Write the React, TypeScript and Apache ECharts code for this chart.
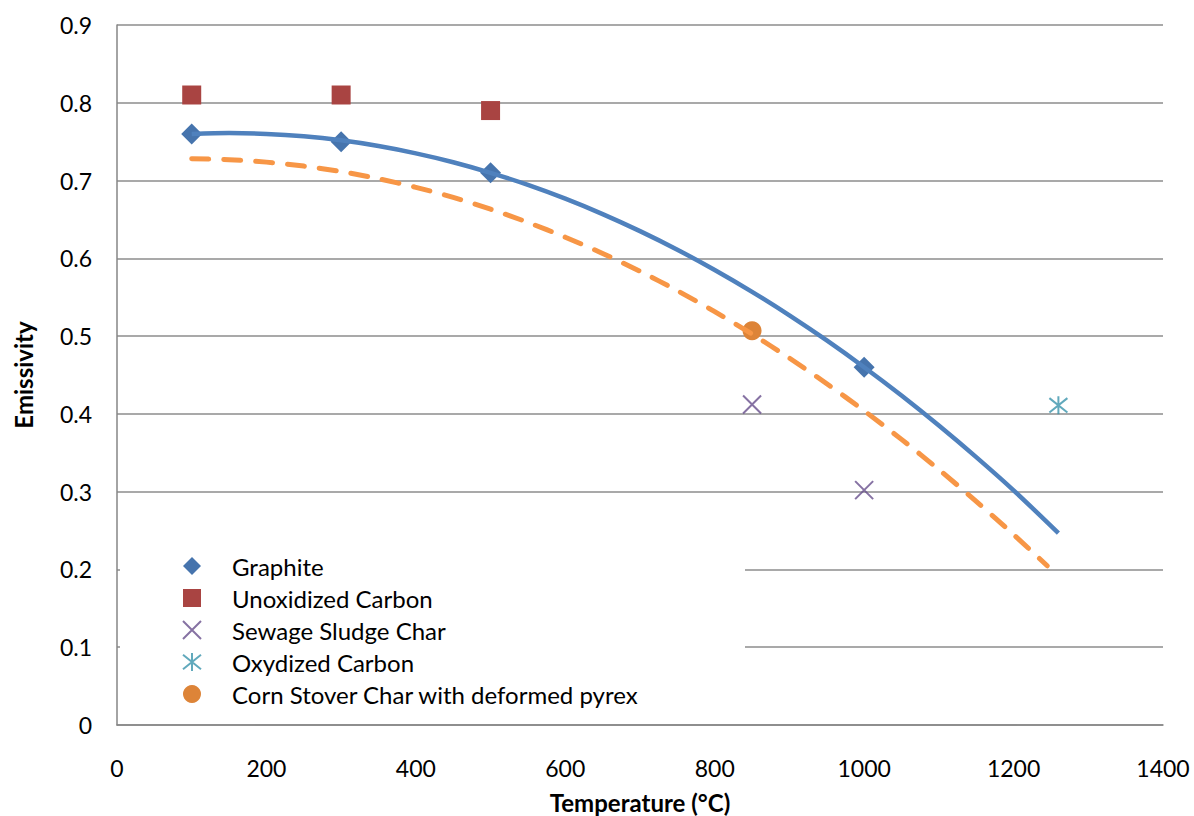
import React, { useEffect, useRef } from "react";
import * as echarts from "echarts";

// Measured emissivity by material (temperature in °C)
const graphite: [number, number][] = [
  [100, 0.76],
  [300, 0.75],
  [500, 0.71],
  [1000, 0.46],
];
const unoxidizedCarbon: [number, number][] = [
  [100, 0.81],
  [300, 0.81],
  [500, 0.79],
];
const sewageSludgeChar: [number, number][] = [
  [850, 0.412],
  [1000, 0.302],
];
const oxydizedCarbon: [number, number][] = [[1260, 0.411]];
const cornStoverChar: [number, number][] = [[850, 0.507]];

// Trendline traces
const graphiteTrend: [number, number][] = [
  [100, 0.76], [150, 0.7611], [200, 0.76], [250, 0.7569], [300, 0.7517],
  [350, 0.7444], [400, 0.735], [450, 0.7236], [500, 0.71], [550, 0.6944],
  [600, 0.6767], [650, 0.6569], [700, 0.635], [750, 0.6111], [800, 0.585],
  [850, 0.5569], [900, 0.5267], [950, 0.4944], [1000, 0.46], [1050, 0.4236],
  [1100, 0.385], [1150, 0.3444], [1200, 0.3017], [1260, 0.2467],
];
const cornTrend: [number, number][] = [
  [100, 0.728], [150, 0.7268], [200, 0.7237], [250, 0.7186], [300, 0.7115],
  [350, 0.7024], [400, 0.6913], [450, 0.6783], [500, 0.6632], [550, 0.6462],
  [600, 0.6272], [650, 0.6063], [700, 0.5833], [750, 0.5584], [800, 0.5315],
  [850, 0.5026], [900, 0.4717], [950, 0.4388], [1000, 0.404], [1050, 0.3672],
  [1100, 0.3284], [1150, 0.2876], [1200, 0.2449], [1245, 0.2047],
];

const xTicks = { min: 0, max: 1400, interval: 200 };
const yTicks = { min: 0, max: 0.9, interval: 0.1 };

const FONT = "Lato, 'Open Sans', sans-serif";

const crossPath = "path://M0,0 L20,20 M20,0 L0,20";
const starPath = "path://M0,2 L20,18 M20,2 L0,18 M10,0 L10,20";

export default function App() {
  const ref = useRef<HTMLDivElement>(null);

  useEffect(() => {
    if (!ref.current) return;
    const chart = echarts.init(ref.current, undefined, { renderer: "svg" });
    chart.setOption({
      animation: false,
      backgroundColor: "#ffffff",
      textStyle: { fontFamily: FONT },
      grid: {
        left: 117,
        right: 31,
        top: 25,
        bottom: 91,
        containLabel: false,
        outerBoundsMode: "none",
      },
      xAxis: {
        type: "value",
        ...xTicks,
        name: "Temperature (°C)",
        nameLocation: "middle",
        nameGap: 65,
        nameTextStyle: { fontFamily: FONT, fontSize: 24, fontWeight: "bold", color: "#000" },
        axisLine: { show: true, lineStyle: { color: "#868686", width: 1.5 } },
        axisTick: { show: false },
        axisLabel: {
          fontFamily: FONT,
          fontSize: 23,
          color: "#000",
          margin: 31,
          formatter: (v: number) => String(v),
        },
        splitLine: { show: false },
      },
      yAxis: {
        type: "value",
        ...yTicks,
        name: "Emissivity",
        nameLocation: "middle",
        nameGap: 82,
        nameTextStyle: { fontFamily: FONT, fontSize: 24, fontWeight: "bold", color: "#000" },
        axisLine: { show: true, lineStyle: { color: "#868686", width: 1.5 } },
        axisTick: { show: false },
        axisLabel: { fontFamily: FONT, fontSize: 23, color: "#000", margin: 25 },
        splitLine: { show: true, lineStyle: { color: "#8c8c8c", width: 1.5 } },
      },
      legend: {
        orient: "vertical",
        left: 177,
        top: 549,
        itemWidth: 18,
        itemHeight: 18,
        itemGap: 8,
        z: 10,
        data: [
          "Graphite",
          "Unoxidized Carbon",
          "Sewage Sludge Char",
          "Oxydized Carbon",
          "Corn Stover Char with deformed pyrex",
        ],
        textStyle: {
          fontFamily: FONT,
          fontSize: 24,
          color: "#000",
          lineHeight: 18,
          padding: [0, 0, 0, 26],
        },
      },
      graphic: [
        {
          type: "rect",
          z: 5,
          shape: { x: 120, y: 545, width: 625, height: 165 },
          style: { fill: "#ffffff" },
          silent: true,
        },
      ],
      series: [
        {
          name: "Graphite",
          type: "scatter",
          data: graphite,
          symbol: "diamond",
          symbolSize: [21, 21],
          itemStyle: { color: "#4674ad", opacity: 1 },
          z: 2,
        },
        {
          name: "Unoxidized Carbon",
          type: "scatter",
          data: unoxidizedCarbon,
          symbol: "rect",
          symbolSize: 19,
          itemStyle: { color: "#a94442", opacity: 1 },
          z: 2,
        },
        {
          name: "Sewage Sludge Char",
          type: "scatter",
          data: sewageSludgeChar,
          symbol: crossPath,
          symbolSize: 18,
          itemStyle: { color: "rgba(0,0,0,0)", borderColor: "#684f8c", borderWidth: 2 },
          z: 2,
        },
        {
          name: "Oxydized Carbon",
          type: "scatter",
          data: oxydizedCarbon,
          symbol: starPath,
          symbolSize: 18,
          itemStyle: { color: "rgba(0,0,0,0)", borderColor: "#3a93ab", borderWidth: 2 },
          z: 2,
        },
        {
          name: "Corn Stover Char with deformed pyrex",
          type: "scatter",
          data: cornStoverChar,
          symbol: "circle",
          symbolSize: 19,
          itemStyle: { color: "#dd8438", opacity: 1 },
          z: 2,
        },
        {
          name: "Graphite trend",
          type: "line",
          data: graphiteTrend,
          smooth: 0.3,
          showSymbol: false,
          symbol: "none",
          lineStyle: { color: "#4f81bd", width: 4.5 },
          z: 4,
        },
        {
          name: "Corn trend",
          type: "line",
          data: cornTrend,
          smooth: 0.3,
          showSymbol: false,
          symbol: "none",
          lineStyle: { color: "#f79646", width: 5, type: [17, 15], cap: "round" },
          z: 4,
        },
      ],
    });
    return () => chart.dispose();
  }, []);

  return (
    <div
      ref={ref}
      style={{ position: "fixed", left: 0, top: 0, width: 1194, height: 816 }}
    />
  );
}
